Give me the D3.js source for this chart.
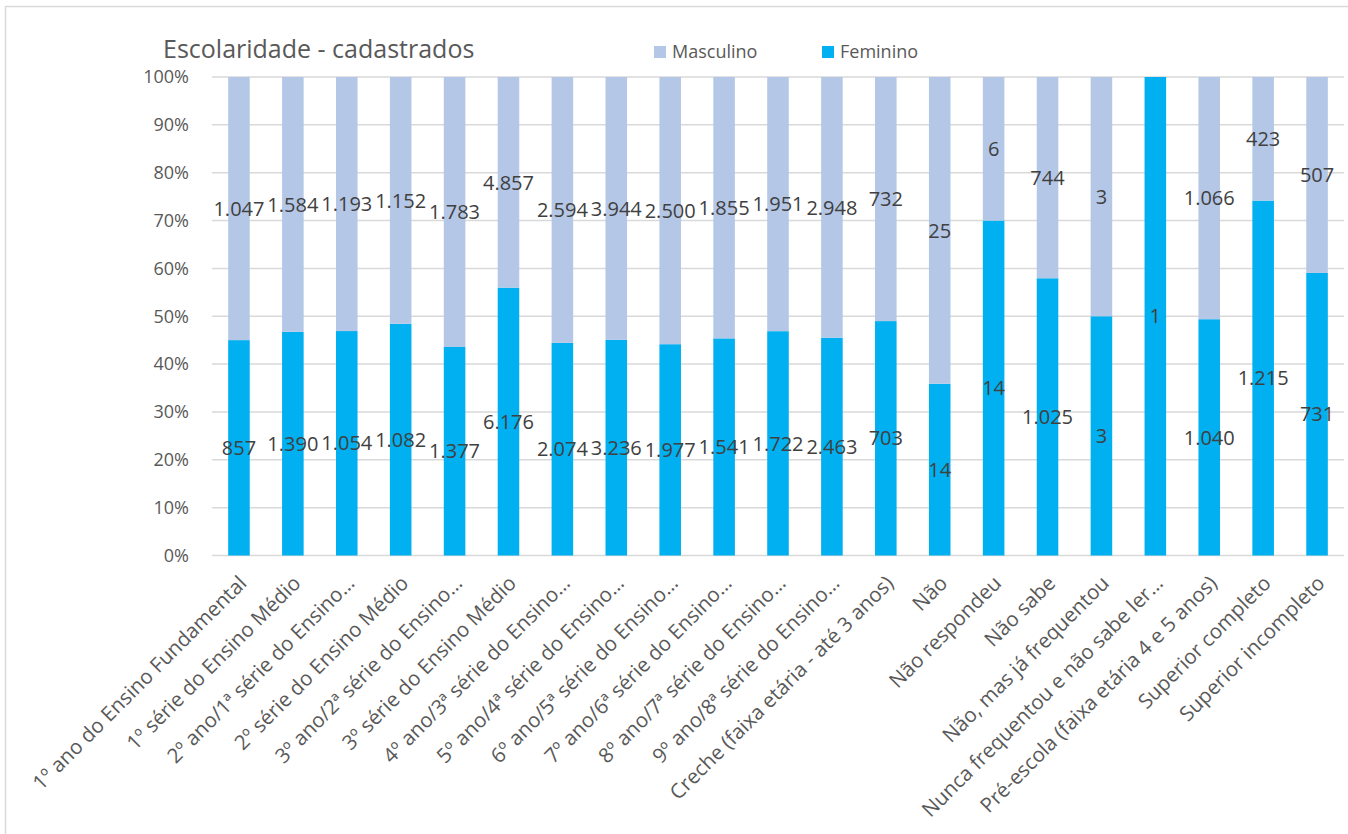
<!DOCTYPE html>
<html>
<head>
<meta charset="utf-8">
<script src="https://cdn.jsdelivr.net/npm/d3@7"></script>
<style>
  html, body { margin: 0; padding: 0; background: #fff; }
  svg { display: block; }
</style>
</head>
<body>
<svg id="chart" width="1348" height="834"></svg>
<script>
// Schooling level of registered people, split by sex (100% stacked columns)
const categories = [
  "1º ano do Ensino Fundamental",
  "1º série do Ensino Médio",
  "2º ano/1ª série do Ensino…",
  "2º série do Ensino Médio",
  "3º ano/2ª série do Ensino…",
  "3º série do Ensino Médio",
  "4º ano/3ª série do Ensino…",
  "5º ano/4ª série do Ensino…",
  "6º ano/5ª série do Ensino…",
  "7º ano/6ª série do Ensino…",
  "8º ano/7ª série do Ensino…",
  "9º ano/8ª série do Ensino…",
  "Creche (faixa etária - até 3 anos)",
  "Não",
  "Não respondeu",
  "Não sabe",
  "Não, mas já frequentou",
  "Nunca frequentou e não sabe ler…",
  "Pré-escola (faixa etária 4 e 5 anos)",
  "Superior completo",
  "Superior incompleto"
];
const feminino  = [857, 1390, 1054, 1082, 1377, 6176, 2074, 3236, 1977, 1541, 1722, 2463, 703, 14, 14, 1025, 3, 1, 1040, 1215, 731];
const masculino = [1047, 1584, 1193, 1152, 1783, 4857, 2594, 3944, 2500, 1855, 1951, 2948, 732, 25, 6, 744, 3, 0, 1066, 423, 507];
const yTicks = [0, 0.1, 0.2, 0.3, 0.4, 0.5, 0.6, 0.7, 0.8, 0.9, 1];
const seriesNames = ["Masculino", "Feminino"];
const colors = { Feminino: "#00B0F0", Masculino: "#B4C7E7" };

const svg = d3.select("#chart");
const margin = { left: 212, right: 1344, top: 77, bottom: 555.5 };

// chart area frame
svg.append("path")
  .attr("d", "M5.5,840 V6.5 H1360")
  .attr("fill", "none")
  .attr("stroke", "#d9d9d9")
  .attr("stroke-width", 1.5);

const x = d3.scaleBand().domain(categories).range([margin.left, margin.right]).paddingInner(0.6).paddingOuter(0.3);
const y = d3.scaleLinear().domain([0, 1]).range([margin.bottom, margin.top]);

const fmt = v => d3.format(",")(v).replace(/,/g, ".");

// gridlines
svg.append("g").selectAll("line").data(yTicks).join("line")
  .attr("x1", margin.left).attr("x2", margin.right)
  .attr("y1", d => y(d)).attr("y2", d => y(d))
  .attr("stroke", "#d9d9d9").attr("stroke-width", 1.5);

// y axis labels
const yAxis = d3.axisLeft(y).tickValues(yTicks).tickFormat(d3.format(".0%")).tickSize(0).tickPadding(0);
const yg = svg.append("g").attr("transform", `translate(189,0)`).call(yAxis);
yg.select(".domain").remove();
yg.selectAll("text")
  .attr("fill", "#595959")
  .style("font-family", "'Open Sans', sans-serif")
  .style("font-size", "18px");

// stacked data
const rows = categories.map((c, i) => {
  const total = feminino[i] + masculino[i];
  return { cat: c, Feminino: feminino[i] / total, Masculino: masculino[i] / total, fRaw: feminino[i], mRaw: masculino[i] };
});
const stack = d3.stack().keys(["Feminino", "Masculino"]);
const stacked = stack(rows);

const barsG = svg.append("g");
stacked.forEach(layer => {
  barsG.append("g").attr("fill", colors[layer.key])
    .selectAll("rect").data(layer).join("rect")
    .attr("x", d => x(d.data.cat))
    .attr("width", x.bandwidth())
    .attr("y", d => y(d[1]))
    .attr("height", d => Math.max(0, y(d[0]) - y(d[1])));
});

// data labels centred in each segment
const labelsG = svg.append("g")
  .style("font-family", "'Open Sans', sans-serif")
  .style("font-size", "20px")
  .attr("fill", "#404040")
  .attr("text-anchor", "middle");
stacked.forEach(layer => {
  const rawKey = layer.key === "Feminino" ? "fRaw" : "mRaw";
  labelsG.append("g").selectAll("text")
    .data(layer.filter(d => d.data[rawKey] > 0))
    .join("text")
    .attr("x", d => x(d.data.cat) + x.bandwidth() / 2)
    .attr("y", d => y((d[0] + d[1]) / 2))
    .attr("dy", "0.36em")
    .text(d => fmt(d.data[rawKey]));
});

// category labels, rotated
const xAxis = d3.axisBottom(x).tickSize(0).tickPadding(0);
const xg = svg.append("g").attr("transform", `translate(0,${margin.bottom})`).call(xAxis);
xg.select(".domain").remove();
xg.selectAll("text")
  .attr("fill", "#595959")
  .style("font-family", "'Open Sans', sans-serif")
  .style("font-size", "20.5px")
  .attr("text-anchor", "end")
  .attr("dy", "0")
  .attr("y", 0)
  .attr("transform", "translate(9,29) rotate(-45)");

// title
svg.append("text")
  .attr("x", 163).attr("y", 58)
  .attr("fill", "#595959")
  .style("font-family", "'Open Sans', sans-serif")
  .style("font-size", "25px")
  .text("Escolaridade - cadastrados");

// legend
const legendPos = [{ name: "Masculino", x: 654 }, { name: "Feminino", x: 822 }];
const lg = svg.append("g")
  .style("font-family", "'Open Sans', sans-serif")
  .style("font-size", "18px");
legendPos.forEach(p => {
  lg.append("rect").attr("x", p.x).attr("y", 46).attr("width", 12).attr("height", 12).attr("fill", colors[p.name]);
  lg.append("text").attr("x", p.x + 18).attr("y", 52).attr("dy", "0.35em").attr("fill", "#595959").text(p.name);
});
</script>
</body>
</html>
